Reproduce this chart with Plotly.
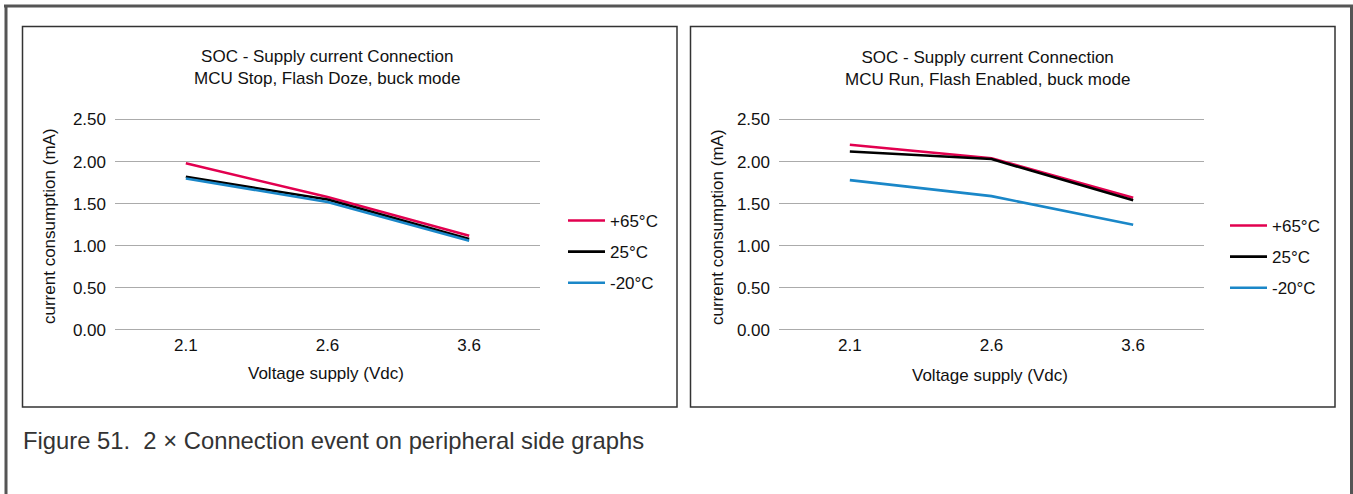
import plotly.graph_objects as go

# Supply voltage categories (Vdc)
voltages = ["2.1", "2.6", "3.6"]
temps = ["+65°C", "25°C", "-20°C"]

# Current consumption (mA): MCU Stop, Flash Doze, buck mode
stop_p65 = [1.98, 1.58, 1.12]
stop_25 = [1.82, 1.55, 1.08]
stop_m20 = [1.80, 1.52, 1.06]

# Current consumption (mA): MCU Run, Flash Enabled, buck mode
run_p65 = [2.20, 2.04, 1.57]
run_25 = [2.12, 2.03, 1.54]
run_m20 = [1.78, 1.59, 1.25]

y_ticks = [0, 0.5, 1.0, 1.5, 2.0, 2.5]

colors = ["#e2004f", "#000000", "#1a87c8"]

W, H = 1353, 494
FONT = "Liberation Sans, Arial, Helvetica, sans-serif"


def px_x(v):
    return v / W


def px_y(v):
    return 1 - v / H


fig = go.Figure()

panels = [
    dict(xa="x", ya="y", leg="legend", series=[stop_p65, stop_25, stop_m20]),
    dict(xa="x2", ya="y2", leg="legend2", series=[run_p65, run_25, run_m20]),
]
for p in panels:
    for name, vals, col in zip(temps, p["series"], colors):
        fig.add_trace(go.Scatter(
            x=voltages, y=vals, name=name, mode="lines",
            line=dict(color=col, width=2.6),
            xaxis=p["xa"], yaxis=p["ya"], legend=p["leg"],
            legendgroup=p["leg"] + name,
        ))

# plot-area geometry (pixels)
y_top_px, y_bot_px = 119.5, 330.0
scale = (y_bot_px - y_top_px) / 2.5
yr = [-0.02, 2.52]
dom_y = [px_y(y_bot_px + 0.02 * scale), px_y(y_top_px - 0.02 * scale)]

axis_font = dict(family=FONT, size=17, color="#111111")
xcommon = dict(type="category", range=[-0.5, 2.5], showgrid=False,
               showline=False, zeroline=False, ticks="",
               tickfont=axis_font, ticklabelstandoff=1, fixedrange=True)
ycommon = dict(range=yr, domain=dom_y, tickvals=y_ticks, tickformat=".2f",
               showgrid=True, gridcolor="#ababab", gridwidth=1,
               zeroline=False, showline=False, ticks="",
               tickfont=axis_font, ticklabelstandoff=8, fixedrange=True)

legend_common = dict(xanchor="left", yanchor="top", bgcolor="rgba(0,0,0,0)",
                     font=dict(family=FONT, size=17, color="#111111"),
                     tracegroupgap=6, traceorder="grouped", itemwidth=37)

fig.update_layout(
    width=W, height=H,
    margin=dict(l=0, r=0, t=0, b=0, autoexpand=False),
    paper_bgcolor="white", plot_bgcolor="white",
    font=dict(family=FONT, size=17, color="#111111"),
    xaxis=dict(domain=[px_x(115), px_x(540)], anchor="y", **xcommon),
    yaxis=dict(anchor="x", **ycommon),
    xaxis2=dict(domain=[px_x(779), px_x(1204)], anchor="y2", **xcommon),
    yaxis2=dict(anchor="x2", **ycommon),
    legend=dict(x=px_x(563), y=px_y(203), **legend_common),
    legend2=dict(x=px_x(1225), y=px_y(208), **legend_common),
    showlegend=True,
)

shapes = []
# outer frame
shapes.append(dict(type="line", xref="paper", yref="paper",
                   x0=px_x(4), x1=px_x(1353), y0=px_y(6), y1=px_y(6),
                   line=dict(color="#555555", width=3)))
shapes.append(dict(type="line", xref="paper", yref="paper",
                   x0=px_x(6), x1=px_x(6), y0=px_y(5), y1=px_y(494),
                   line=dict(color="#555555", width=3)))
shapes.append(dict(type="line", xref="paper", yref="paper",
                   x0=px_x(1351.5), x1=px_x(1351.5), y0=px_y(5), y1=px_y(494),
                   line=dict(color="#555555", width=3)))
# panel boxes
for x0, x1 in [(22.5, 677), (690.5, 1335)]:
    shapes.append(dict(type="rect", xref="paper", yref="paper",
                       x0=px_x(x0), x1=px_x(x1), y0=px_y(407), y1=px_y(26.5),
                       line=dict(color="#333333", width=1.5), fillcolor="rgba(0,0,0,0)"))
fig.update_layout(shapes=shapes)

title_font = dict(family=FONT, size=17, color="#111111")
annotations = [
    dict(text="SOC - Supply current Connection<br>MCU Stop, Flash Doze, buck mode",
         x=px_x(327), y=px_y(67.5), xref="paper", yref="paper",
         xanchor="center", yanchor="middle", showarrow=False, font=title_font),
    dict(text="SOC - Supply current Connection<br>MCU Run, Flash Enabled, buck mode",
         x=px_x(987), y=px_y(68.5), xref="paper", yref="paper",
         xanchor="center", yanchor="middle", showarrow=False, font=title_font),
    dict(text="Voltage supply (Vdc)", x=px_x(326), y=px_y(373),
         xref="paper", yref="paper", xanchor="center", yanchor="middle",
         showarrow=False, font=title_font),
    dict(text="Voltage supply (Vdc)", x=px_x(990), y=px_y(375),
         xref="paper", yref="paper", xanchor="center", yanchor="middle",
         showarrow=False, font=title_font),
    dict(text="current consumption (mA)", x=px_x(49), y=px_y(226),
         xref="paper", yref="paper", xanchor="center", yanchor="middle",
         textangle=-90, showarrow=False, font=title_font),
    dict(text="current consumption (mA)", x=px_x(717), y=px_y(227),
         xref="paper", yref="paper", xanchor="center", yanchor="middle",
         textangle=-90, showarrow=False, font=title_font),
    dict(text="Figure 51.  2 × Connection event on peripheral side graphs",
         x=px_x(21), y=px_y(440), xref="paper", yref="paper",
         xanchor="left", yanchor="middle", showarrow=False,
         font=dict(family=FONT, size=23.8, color="#333333")),
]
fig.update_layout(annotations=annotations)

fig.write_html("out.html", config={"displayModeBar": False})
